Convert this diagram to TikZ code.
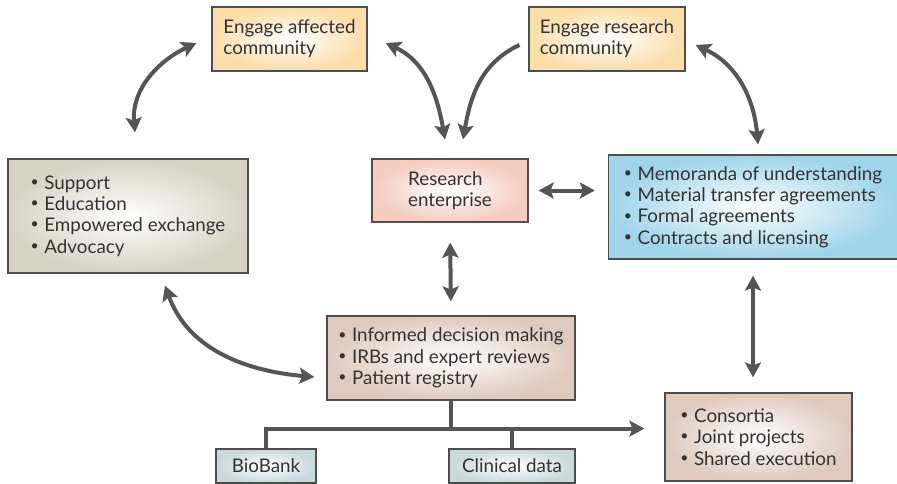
\documentclass[tikz,border=0pt]{standalone}
\usepackage{fontspec}
\setmainfont{Lato}
\usetikzlibrary{arrows.meta}
\definecolor{boxline}{HTML}{4D4D4D}
\definecolor{arrowgray}{HTML}{555555}
\definecolor{engageor}{HTML}{FBDDA8}
\definecolor{enterpink}{HTML}{F4CCC0}
\definecolor{suppbeige}{HTML}{D9D3C3}
\definecolor{agreeblue}{HTML}{9FD4EA}
\definecolor{tanbox}{HTML}{DFCABD}
\definecolor{grayblue}{HTML}{C9D8DD}
\definecolor{textgray}{HTML}{333333}
\newcommand*\itm{\raisebox{0.3ex}{\fontsize{14}{14}\selectfont\textbullet}\hspace{0.3em}}
\tikzset{
  infobox/.style={draw=boxline,line width=1.2pt,shading=radial,inner color=white,
    outer color=#1,align=left,text=textgray,font=\fontsize{18.8}{21.3}\selectfont},
  dbl/.style={arrowgray,line width=4pt,{Stealth[length=15pt,width=16pt,inset=3pt]}-{Stealth[length=15pt,width=16pt,inset=3pt]}},
  sgl/.style={arrowgray,line width=4pt,-{Stealth[length=15pt,width=16pt,inset=3pt]}},
  bus/.style={arrowgray,line width=4pt}
}
\begin{document}
\begin{tikzpicture}[x=1pt,y=1pt]
\useasboundingbox (0,0) rectangle (897,-484);
%boxes
\node [infobox=engageor,minimum width=155,minimum height=64] (affect) at (289.5,-39) {Engage affected\\community};
\node [infobox=engageor,minimum width=156,minimum height=64] (rcomm) at (607,-39) {Engage research\\community};
\node [infobox=suppbeige,minimum width=240,minimum height=114] (supp) at (128,-216) {\itm Support\\\itm Education\\\itm Empowered exchange\\\itm Advocacy};
\node [infobox=enterpink,minimum width=156,minimum height=63] (enterp) at (450,-190.5) {Research\\enterprise};
\node [infobox=agreeblue,minimum width=289,minimum height=104] (agree) at (753,-207) {\itm Memoranda of understanding\\\itm Material transfer agreements\\\itm Formal agreements\\\itm Contracts and licensing};
\node [infobox=tanbox,minimum width=248,minimum height=84] (inform) at (451,-358) {\itm Informed decision making\\\itm IRBs and expert reviews\\\itm Patient registry};
\node [infobox=tanbox,minimum width=187,minimum height=88] (cons) at (758.5,-437) {\itm Consortia\\\itm Joint projects\\\itm Shared execution};
\node [infobox=grayblue,minimum width=100,minimum height=34] (biobank) at (266,-466) {BioBank};
\node [infobox=grayblue,minimum width=126,minimum height=34] (clin) at (512,-466) {Clinical data};
%curved arrows
\draw [dbl] ([xshift=-15,yshift=-4]affect.west) to[out=205,in=95] ([xshift=7,yshift=26]supp.north);
\draw [dbl] ([xshift=18,yshift=-4]affect.east) to[out=-25,in=100] ([xshift=-5,yshift=19]enterp.north);
\draw [sgl] ([xshift=-9,yshift=-6]rcomm.west) to[out=205,in=80] ([xshift=13,yshift=19]enterp.north);
\draw [dbl] ([xshift=10,yshift=-6]rcomm.east) to[out=-25,in=95] ([xshift=5,yshift=10]agree.north);
\draw [dbl] ([xshift=37,yshift=-12]supp.south) to[out=-70,in=175] ([xshift=-12,yshift=-19]inform.west);
%straight arrows
\draw [dbl,shorten <=10,shorten >=13] (enterp.east) -- (enterp.east -| agree.west);
\draw [dbl,shorten <=20,shorten >=14] (enterp.south) -- (inform.north);
\draw [dbl,shorten <=16,shorten >=15] (agree.south) -- (agree.south |- cons.north);
%data tree
\coordinate (split) at ([yshift=-28]inform.south);
\draw [bus] (inform.south) -- (split);
\draw [sgl] (biobank.north) |- ([xshift=-20]cons.west |- split);
\draw [bus] (clin.north) -- (clin.north |- split);
\end{tikzpicture}
\end{document}
